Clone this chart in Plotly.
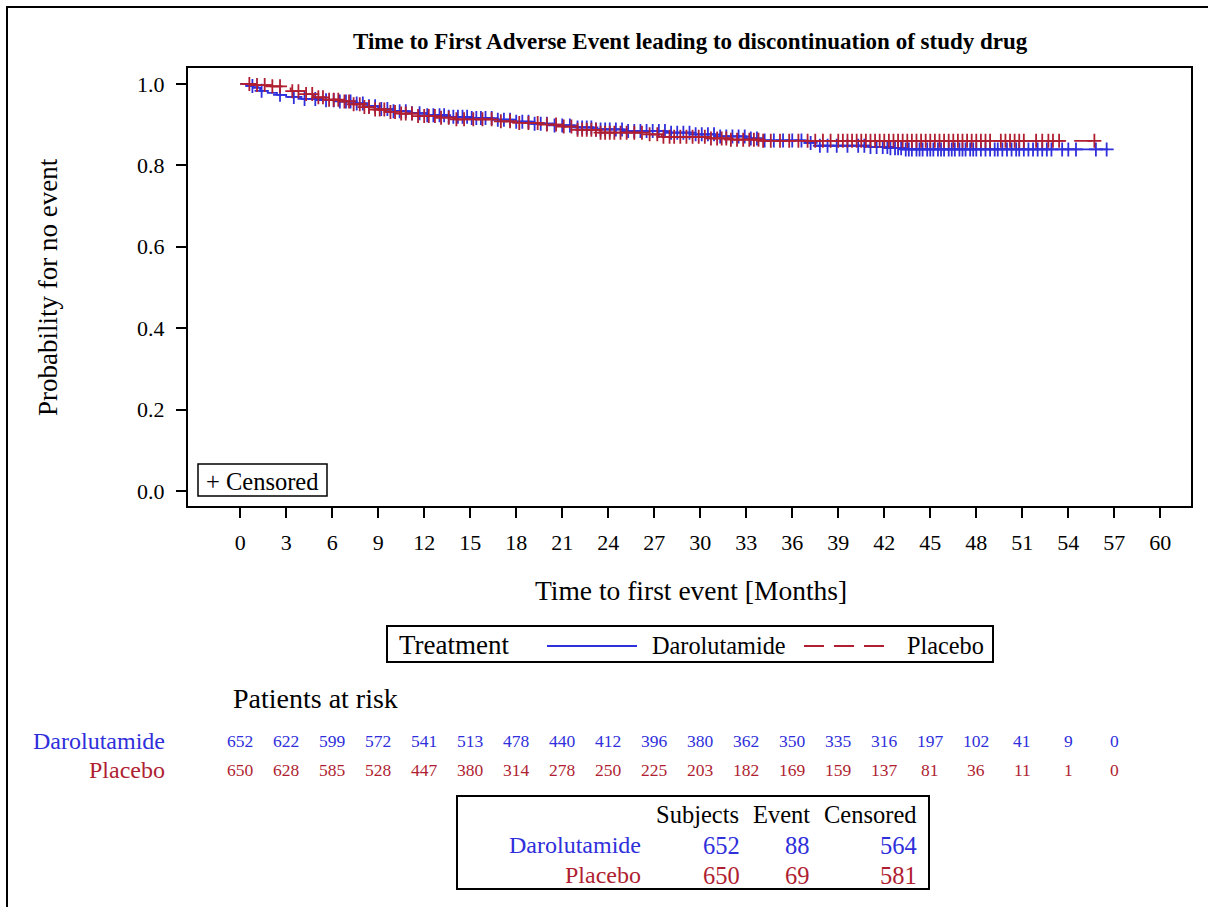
import numpy as np
import plotly.graph_objects as go

W, H = 1208, 907
SERIF = "Liberation Serif"
BLUE = "#2F2FDB"
RED = "#B01E32"

# ---- axis ticks -------------------------------------------------------
month_ticks = list(range(0, 61, 3))
prob_ticks = [0.0, 0.2, 0.4, 0.6, 0.8, 1.0]

# ---- Kaplan-Meier step points (months, probability of no event) -------
daro_time = [0, 0.4, 0.9, 1.3, 1.8, 2.4, 3.0, 4.0, 5.0, 6.5, 7.5, 8.3, 9.0, 10.0,
             11.0, 12.2, 13.5, 15.0, 16.5, 17.8, 19.0, 20.5, 21.8, 23.0, 25.0,
             27.8, 29.5, 31.0, 33.0, 34.0, 36.8, 37.5, 41.0, 42.3, 43.2]
daro_surv = [1.0, 0.995, 0.990, 0.983, 0.978, 0.973, 0.968, 0.963, 0.960, 0.957,
             0.952, 0.945, 0.938, 0.933, 0.928, 0.923, 0.919, 0.916, 0.912, 0.907,
             0.902, 0.898, 0.893, 0.888, 0.884, 0.880, 0.876, 0.871, 0.866, 0.861,
             0.855, 0.848, 0.845, 0.842, 0.839]
daro_last = 56.6

plac_time = [0, 1.0, 2.0, 2.8, 3.3, 4.2, 4.8, 5.5, 6.5, 7.2, 8.0, 8.8, 9.5, 10.5,
             11.5, 12.8, 14.0, 16.5, 18.0, 19.5, 21.0, 22.0, 23.5, 26.5, 27.5,
             30.5, 32.0, 34.0]
plac_surv = [1.0, 0.997, 0.994, 0.989, 0.982, 0.975, 0.967, 0.961, 0.957, 0.950,
             0.943, 0.937, 0.931, 0.927, 0.921, 0.917, 0.913, 0.908, 0.904, 0.900,
             0.895, 0.887, 0.880, 0.876, 0.870, 0.866, 0.863, 0.860]
plac_last = 55.7

# ---- censoring times (months) -----------------------------------------
daro_censor = [0.8, 1.4, 2.6, 3.5, 4.2, 4.9, 5.6, 6.1, 6.5, 6.9, 7.2, 7.6, 8.0, 8.4,
               8.8, 9.2, 9.6, 10.0, 10.4, 10.8, 11.2, 11.7, 12.2, 12.6, 13.0, 13.3,
               13.6, 13.9, 14.2, 14.5, 14.8, 15.1, 15.4, 15.7, 16.0, 16.4, 16.8, 17.2,
               17.6, 18.0, 18.4, 18.8, 19.2, 19.6, 20.0, 20.5, 21.0, 21.5, 22.0, 22.3,
               22.6, 22.9, 23.2, 23.5, 23.8, 24.1, 24.5, 24.9, 25.3, 25.7, 26.1, 26.5,
               26.9, 27.3, 27.7, 28.1, 28.5, 28.9, 29.3, 29.7, 30.1, 30.5, 30.9, 31.3,
               31.7, 32.1, 32.5, 32.9, 33.3, 33.7, 34.2, 34.8, 35.4, 36.0, 36.6, 37.2,
               37.8, 38.3, 38.9, 39.6, 40.3, 40.7, 41.1, 41.5, 41.9, 42.2, 42.4, 42.7,
               42.9, 43.1, 43.4, 43.6, 43.8, 44.1, 44.3, 44.5, 44.8, 45.0, 45.2, 45.5,
               45.7, 45.9, 46.2, 46.4, 46.6, 46.9, 47.1, 47.3, 47.6, 47.8, 48.0, 48.3,
               48.6, 48.9, 49.2, 49.4, 49.7, 50.0, 50.3, 50.6, 50.8, 51.1, 51.4, 51.7,
               52.0, 52.3, 52.6, 52.9, 53.6, 54.0, 54.5, 55.8, 56.5]
plac_censor = [0.6, 1.1, 1.6, 2.1, 2.6, 3.4, 3.8, 4.3, 4.7, 5.1, 5.4, 5.8, 6.1, 6.4,
               6.8, 7.1, 7.4, 7.8, 8.1, 8.4, 8.8, 9.1, 9.4, 9.8, 10.1, 10.5, 10.8,
               11.2, 11.6, 12.0, 12.3, 12.7, 13.1, 13.6, 14.1, 14.6, 15.2, 15.8, 16.4,
               17.0, 17.6, 18.2, 18.8, 19.4, 20.0, 20.6, 21.1, 21.6, 22.0, 22.3, 22.6,
               22.9, 23.2, 23.5, 23.8, 24.1, 24.4, 24.8, 25.2, 25.7, 26.2, 26.7, 27.2,
               27.6, 28.0, 28.3, 28.7, 29.1, 29.5, 29.9, 30.3, 30.7, 31.1, 31.4, 31.7,
               32.0, 32.4, 32.8, 33.2, 33.5, 33.8, 34.1, 34.6, 35.2, 35.8, 36.4, 37.0,
               37.5, 38.0, 38.5, 39.0, 39.3, 39.6, 39.9, 40.2, 40.5, 40.8, 41.1, 41.4,
               41.7, 42.0, 42.3, 42.6, 42.9, 43.2, 43.5, 43.8, 44.1, 44.4, 44.7, 45.0,
               45.3, 45.6, 45.9, 46.2, 46.5, 46.8, 47.1, 47.4, 47.7, 48.0, 48.3, 48.6,
               48.9, 49.6, 49.9, 50.2, 50.5, 50.8, 51.1, 51.9, 52.3, 52.7, 53.0, 53.4,
               55.7]

# ---- patients at risk --------------------------------------------------
risk_times = list(range(0, 58, 3))
daro_risk = [652, 622, 599, 572, 541, 513, 478, 440, 412, 396, 380, 362, 350, 335,
             316, 197, 102, 41, 9, 0]
plac_risk = [650, 628, 585, 528, 447, 380, 314, 278, 250, 225, 203, 182, 169, 159,
             137, 81, 36, 11, 1, 0]

# ---- summary table -----------------------------------------------------
arms = ["Darolutamide", "Placebo"]
subjects = [652, 650]
events = [88, 69]
censored = [564, 581]


def px(x):
    return x / W


def py(y):
    return 1 - y / H


def surv_at(times, t_steps, s_steps):
    t_steps = np.asarray(t_steps)
    s_steps = np.asarray(s_steps)
    idx = np.searchsorted(t_steps, np.asarray(times), side="right") - 1
    return s_steps[idx]


fig = go.Figure()

arm_series = [
    (arms[0], daro_time, daro_surv, daro_last, daro_censor, BLUE, "solid"),
    (arms[1], plac_time, plac_surv, plac_last, plac_censor, RED, "18px,9px"),
]
for name, t, s, last, cens, color, dash in arm_series:
    fig.add_trace(go.Scatter(
        x=list(t) + [last], y=list(s) + [s[-1]], mode="lines", name=name,
        line=dict(color=color, width=1.8, dash=dash, shape="hv"),
        showlegend=False, hoverinfo="skip"))
    fig.add_trace(go.Scatter(
        x=cens, y=surv_at(cens, t, s), mode="markers", name=name + " censored",
        marker=dict(symbol="cross-thin", size=10,
                    line=dict(color=color, width=1.8)),
        showlegend=False, hoverinfo="skip"))

ann = []


def text(x, y, s, size, color="black", xanchor="center", xref="paper", bold=False,
         angle=0):
    ann.append(dict(
        x=x, y=y, xref=xref, yref="paper", text=("<b>%s</b>" % s) if bold else s,
        showarrow=False, xanchor=xanchor, yanchor="middle", textangle=angle,
        font=dict(family=SERIF, size=size, color=color)))


# title and axis titles
text(px(690), py(42), "Time to First Adverse Event leading to discontinuation of study drug",
     23, bold=True)
text(px(691), py(590), "Time to first event [Months]", 27.5)
text(px(48), py(287), "Probability for no event", 27, angle=-90)

# censored key inside the plot area
text(px(204), py(481), "+ Censored", 24.5, xanchor="left")

# treatment legend
text(px(397), py(645), "Treatment", 27, xanchor="left")
text(px(650), py(645), arms[0], 24.3, xanchor="left")
text(px(905), py(645), arms[1], 24.3, xanchor="left")

# patients at risk block
text(px(231), py(698), "Patients at risk", 28, xanchor="left")
text(px(167), py(741), arms[0], 24, color=BLUE, xanchor="right")
text(px(167), py(770), arms[1], 24, color=RED, xanchor="right")
for t, n in zip(risk_times, daro_risk):
    text(t, py(741), str(n), 17.5, color=BLUE, xref="x")
for t, n in zip(risk_times, plac_risk):
    text(t, py(770), str(n), 17.5, color=RED, xref="x")

# subjects / events / censored summary
text(px(741), py(814), "Subjects", 24.5, xanchor="right")
text(px(812), py(814), "Event", 24.5, xanchor="right")
text(px(919), py(814), "Censored", 24.5, xanchor="right")
for i, (arm, col) in enumerate(zip(arms, [BLUE, RED])):
    yy = py(845 + 30 * i)
    text(px(643), yy, arm, 24, color=col, xanchor="right")
    text(px(742), yy, str(subjects[i]), 24.5, color=col, xanchor="right")
    text(px(812), yy, str(events[i]), 24.5, color=col, xanchor="right")
    text(px(919), yy, str(censored[i]), 24.5, color=col, xanchor="right")

shapes = [
    # outer frame
    dict(type="rect", xref="paper", yref="paper", x0=px(7), x1=px(1220),
         y0=py(920), y1=py(7), line=dict(color="black", width=2)),
    # censored key box
    dict(type="rect", xref="paper", yref="paper", x0=px(198), x1=px(327),
         y0=py(496), y1=py(464), line=dict(color="black", width=1.5)),
    # treatment legend box
    dict(type="rect", xref="paper", yref="paper", x0=px(387), x1=px(993),
         y0=py(662), y1=py(626), line=dict(color="black", width=2)),
    # legend keys
    dict(type="line", xref="paper", yref="paper", x0=px(547), x1=px(637),
         y0=py(646), y1=py(646), line=dict(color=BLUE, width=1.8)),
    dict(type="line", xref="paper", yref="paper", x0=px(804), x1=px(887),
         y0=py(646), y1=py(646), line=dict(color=RED, width=1.8, dash="20px,10px")),
    # summary table box
    dict(type="rect", xref="paper", yref="paper", x0=px(457), x1=px(929),
         y0=py(889), y1=py(796), line=dict(color="black", width=2)),
]

axis_common = dict(showline=True, linecolor="black", linewidth=2, mirror=True,
                   ticks="outside", ticklen=10, tickwidth=2, tickcolor="black",
                   showgrid=False, zeroline=False,
                   tickfont=dict(family=SERIF, size=22, color="black"))

fig.update_layout(
    width=W, height=H, margin=dict(l=0, r=0, t=0, b=0),
    paper_bgcolor="white", plot_bgcolor="white",
    xaxis=dict(domain=[px(188), px(1191)], range=[-3.4, 62.0],
               tickvals=month_ticks, ticktext=[str(v) for v in month_ticks],
               ticklabelstandoff=6, **axis_common),
    yaxis=dict(domain=[py(506), py(68)], range=[-0.037, 1.039],
               tickvals=prob_ticks, ticktext=["%.1f" % v for v in prob_ticks],
               ticklabelstandoff=7, **axis_common),
    annotations=ann, shapes=shapes, showlegend=False,
)

fig.write_html("out.html")
